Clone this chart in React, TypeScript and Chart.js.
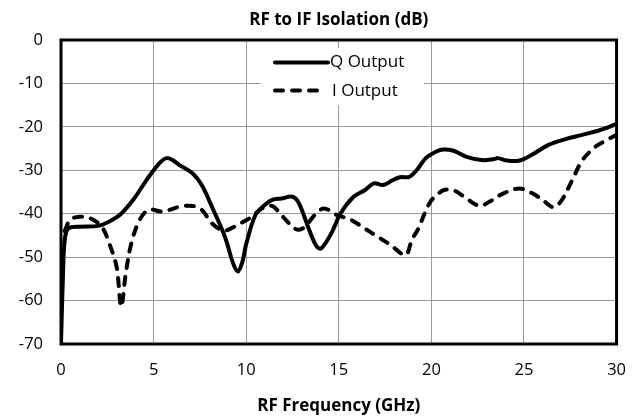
import React, { useEffect, useRef } from "react";
import { Chart, registerables } from "chart.js";

Chart.register(...registerables);

const chartTitle = "RF to IF Isolation (dB)";
const xAxisTitle = "RF Frequency (GHz)";
const seriesNames = ["Q Output", "I Output"];

const qFreq = [0, 0.1, 0.2, 0.4, 1.0, 2.0, 2.6, 3.2, 3.9, 4.5, 4.95, 5.4, 5.7, 6.0, 6.4, 7.1, 7.6, 8.15, 8.85, 9.3, 9.55, 9.8, 10.0, 10.5, 11.0, 11.4, 11.9, 12.5, 12.85, 13.4, 13.8, 14.05, 14.6, 15.1, 15.8, 16.4, 16.9, 17.4, 17.9, 18.3, 18.8, 19.2, 19.7, 20.3, 20.65, 21.2, 21.9, 22.8, 23.4, 23.6, 24.0, 24.7, 25.4, 26.3, 27.2, 28.1, 29.0, 29.5, 30];
const qIso = [-70, -55, -46, -43.4, -43, -42.8, -41.8, -40.2, -36.8, -33, -30.3, -28, -27.2, -27.6, -28.8, -30.7, -33.4, -38.4, -45.3, -51.5, -53.3, -51, -47, -40.3, -38, -36.8, -36.5, -36.1, -37.6, -43.7, -47.5, -48, -44.5, -39.9, -36.1, -34.6, -33, -33.4, -32.3, -31.6, -31.5, -30, -27.2, -25.6, -25.2, -25.5, -26.9, -27.7, -27.4, -27.2, -27.7, -27.8, -26.5, -24.2, -22.9, -21.9, -20.9, -20.2, -19.3];

const iFreq = [0.2, 0.5, 1.0, 1.55, 2.2, 2.6, 3.0, 3.25, 3.5, 3.8, 4.25, 4.75, 5.5, 6.4, 7.1, 7.6, 8.15, 8.8, 9.6, 10.3, 10.85, 11.4, 11.9, 12.7, 13.15, 13.7, 14.2, 14.9, 15.65, 16.4, 17.1, 17.8, 18.6, 18.95, 19.3, 19.6, 19.95, 20.3, 20.65, 21.2, 21.9, 22.6, 23.15, 23.9, 24.75, 25.45, 26.0, 26.6, 27.05, 27.6, 28.15, 28.85, 29.4, 30];
const iIso = [-44, -41.4, -40.7, -41, -43, -46.8, -52.2, -61.4, -53.7, -46.8, -41.4, -39.1, -39.5, -38.4, -38.2, -39.1, -42.2, -43.9, -42.4, -40.7, -38.8, -38.2, -40.3, -43.6, -43.1, -40.3, -38.8, -40.3, -41.4, -43.4, -45.3, -47.2, -49.5, -46, -43.4, -40.3, -37.2, -35.7, -34.6, -34.6, -36.5, -38.2, -37.2, -35.3, -34.2, -35.3, -36.8, -38.5, -36.8, -32.3, -27.7, -24.6, -23.2, -21.8];

const xTicks = [0, 5, 10, 15, 20, 25, 30];
const yTicks = [0, -10, -20, -30, -40, -50, -60, -70];

const FONT = '"Open Sans", "Noto Sans", sans-serif';
const DASH = [8, 9];

const decorPlugin = {
  id: "decor",
  beforeDatasetsDraw(chart: any) {
    const { ctx, chartArea } = chart;
    const { left, right, top, bottom } = chartArea;
    ctx.save();
    const lx = left + 200;
    const ly = top + 8;
    ctx.fillStyle = "#ffffff";
    ctx.fillRect(lx, ly, 163, 57);
    ctx.strokeStyle = "#000";
    ctx.lineWidth = 4;
    ctx.lineCap = "round";
    ctx.beginPath();
    ctx.moveTo(lx + 14, ly + 14.5);
    ctx.lineTo(lx + 67, ly + 14.5);
    ctx.stroke();
    ctx.setLineDash(DASH);
    ctx.beginPath();
    ctx.moveTo(lx + 14, ly + 42.5);
    ctx.lineTo(lx + 64, ly + 42.5);
    ctx.stroke();
    ctx.setLineDash([]);
    ctx.fillStyle = "#000";
    ctx.font = `17px ${FONT}`;
    ctx.textAlign = "left";
    ctx.textBaseline = "middle";
    ctx.fillText(seriesNames[0], lx + 69, ly + 14);
    ctx.fillText(seriesNames[1], lx + 71, ly + 43);
    ctx.lineWidth = 3;
    ctx.lineCap = "butt";
    ctx.strokeRect(left, top, right - left, bottom - top);
    ctx.restore();
  },
  afterDraw(chart: any) {
    const { ctx, chartArea } = chart;
    const cx = (chartArea.left + chartArea.right) / 2;
    ctx.save();
    ctx.fillStyle = "#000";
    ctx.font = `bold 17px ${FONT}`;
    ctx.textAlign = "center";
    ctx.textBaseline = "middle";
    ctx.fillText(chartTitle, cx, 20);
    ctx.fillText(xAxisTitle, cx, 406);
    ctx.restore();
  },
};

export default function App() {
  const ref = useRef<HTMLCanvasElement | null>(null);
  useEffect(() => {
    if (!ref.current) return;
    const qData = qFreq.map((x, i) => ({ x, y: qIso[i] }));
    const iData = iFreq.map((x, i) => ({ x, y: iIso[i] }));
    const chart = new Chart(ref.current, {
      type: "line",
      data: {
        datasets: [
          {
            label: seriesNames[0],
            data: qData,
            borderColor: "#000",
            borderWidth: 4,
            pointRadius: 0,
            tension: 0.35,
            fill: false,
            borderCapStyle: "round",
            borderJoinStyle: "round",
          },
          {
            label: seriesNames[1],
            data: iData,
            borderColor: "#000",
            borderWidth: 4,
            borderDash: DASH,
            borderCapStyle: "round",
            borderJoinStyle: "round",
            pointRadius: 0,
            tension: 0.35,
            fill: false,
          },
        ],
      },
      options: {
        responsive: false,
        animation: false,
        layout: { padding: { top: 40, left: 0, right: 22.5, bottom: 0 } },
        plugins: { legend: { display: false }, title: { display: false }, tooltip: { enabled: false } },
        scales: {
          x: {
            type: "linear",
            min: 0,
            max: 30,
            afterFit: (s: any) => { s.height = 73; },
            afterBuildTicks: (s: any) => { s.ticks = xTicks.map((v) => ({ value: v })); },
            grid: { color: "#9a9a9a", lineWidth: 1, drawTicks: false },
            border: { display: false },
            ticks: { color: "#000", font: { family: FONT, size: 16.5 }, padding: 16, maxRotation: 0 },
          },
          y: {
            type: "linear",
            min: -70,
            max: 0,
            afterFit: (s: any) => { s.width = 61; },
            afterBuildTicks: (s: any) => { s.ticks = yTicks.map((v) => ({ value: v })); },
            grid: { color: "#9a9a9a", lineWidth: 1, drawTicks: false },
            border: { display: false },
            ticks: { color: "#000", font: { family: FONT, size: 16.5 }, padding: 18 },
          },
        },
      },
      plugins: [decorPlugin],
    });
    let alive = true;
    if ((document as any).fonts?.load) {
      Promise.all([
        (document as any).fonts.load(`16px ${FONT}`),
        (document as any).fonts.load(`bold 16px ${FONT}`),
      ]).then(() => { if (alive) chart.update(); }).catch(() => {});
    }
    return () => { alive = false; chart.destroy(); };
  }, []);
  return (
    <div style={{ position: "fixed", left: 0, top: 0, width: 642, height: 417, background: "#fff" }}>
      <canvas ref={ref} width={642} height={417} />
    </div>
  );
}
